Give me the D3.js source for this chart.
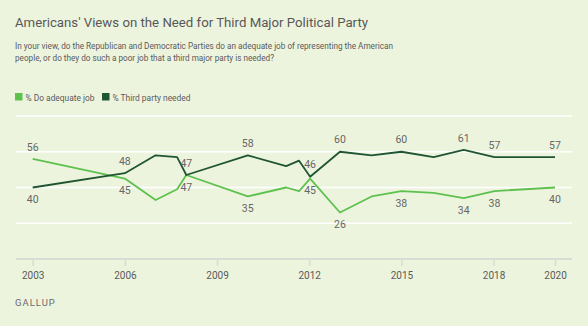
<!DOCTYPE html>
<html>
<head>
<meta charset="utf-8">
<script src="https://cdn.jsdelivr.net/npm/d3@7"></script>
<style>
  body { margin: 0; background: #edf4de; }
  svg { display: block; font-family: "Roboto", "Noto Sans", sans-serif; }
</style>
</head>
<body>
<div id="chart"></div>
<script>
// survey dates (decimal years) and values
const years = [2003.0, 2006.0, 2007.0, 2007.7, 2008.0, 2010.0, 2011.25, 2011.67, 2012.03,
               2013.0, 2014.03, 2015.0, 2016.05, 2017.03, 2018.03, 2020.0];
const adequate = [56, 45, 33, 39, 47, 35, 40, 38, 45, 26, 35, 38, 37, 34, 38, 40];
const thirdParty = [40, 48, 58, 57, 47, 58, 52, 55, 46, 60, 58, 60, 57, 61, 57, 57];
// which points carry a value label
const labelled = [0, 1, 4, 5, 8, 9, 11, 13, 14, 15];
const tickYears = [2003, 2006, 2009, 2012, 2015, 2018, 2020];
const gridValues = [20, 40, 60, 80];

const width = 588, height = 326;
const lightGreen = "#5ec14e", darkGreen = "#1f5532";

const svg = d3.select("#chart").append("svg")
    .attr("width", width)
    .attr("height", height);

svg.append("rect").attr("width", width).attr("height", height).attr("fill", "#edf4de");

// title + question
svg.append("text")
    .attr("x", 15).attr("y", 27)
    .attr("font-size", 13.6)
    .attr("fill", "#585858")
    .attr("textLength", 353)
    .attr("lengthAdjust", "spacingAndGlyphs")
    .text("Americans' Views on the Need for Third Major Political Party");

const question = [
    {text: "In your view, do the Republican and Democratic Parties do an adequate job of representing the American", w: 378},
    {text: "people, or do they do such a poor job that a third major party is needed?", w: 259}
];
svg.selectAll("text.q").data(question).enter()
    .append("text")
    .attr("class", "q")
    .attr("x", 15)
    .attr("y", (d, i) => 49 + i * 11.5)
    .attr("font-size", 9.3)
    .attr("fill", "#5a5a5a")
    .attr("textLength", d => d.w)
    .attr("lengthAdjust", "spacingAndGlyphs")
    .text(d => d.text);

// legend
const legend = [
    {label: "% Do adequate job", color: lightGreen, x: 15, w: 69},
    {label: "% Third party needed", color: darkGreen, x: 102, w: 78}
];
const lg = svg.selectAll("g.legend").data(legend).enter()
    .append("g")
    .attr("transform", d => `translate(${d.x},93)`);
lg.append("rect").attr("width", 7.5).attr("height", 7.5).attr("fill", d => d.color);
lg.append("text")
    .attr("x", 10.5).attr("y", 7.5)
    .attr("font-size", 9.3)
    .attr("fill", "#5a5a5a")
    .attr("textLength", d => d.w)
    .attr("lengthAdjust", "spacingAndGlyphs")
    .text(d => d.label);

// scales
const x = d3.scaleLinear().domain([2003, 2020]).range([32.7, 555]);
const y = d3.scaleLinear().domain([0, 80]).range([259, 116]);

// gridlines
svg.selectAll("line.grid").data(gridValues).enter()
    .append("line")
    .attr("x1", 16).attr("x2", 572)
    .attr("y1", d => y(d)).attr("y2", d => y(d))
    .attr("stroke", "#ffffff")
    .attr("stroke-width", 1.5);

// x axis
const xAxis = svg.append("g")
    .attr("transform", `translate(0,${y(0)})`)
    .call(d3.axisBottom(x).tickValues(tickYears).tickFormat(d3.format("d")).tickSize(7).tickPadding(6));
xAxis.select(".domain").remove();
xAxis.selectAll(".tick line").attr("stroke", "#d8dcd3").attr("stroke-width", 1.5);
xAxis.selectAll(".tick text")
    .attr("fill", "#5a5a5a")
    .attr("font-size", 10)
    .attr("font-family", "Roboto, 'Noto Sans', sans-serif");
svg.append("line")
    .attr("x1", 16).attr("x2", 572)
    .attr("y1", y(0)).attr("y2", y(0))
    .attr("stroke", "#d8dcd3")
    .attr("stroke-width", 2);

// lines
const line = d3.line()
    .x(d => x(d[0]))
    .y(d => y(d[1]));
const series = [
    {values: adequate, color: lightGreen},
    {values: thirdParty, color: darkGreen}
];
svg.selectAll("path.series").data(series).enter()
    .append("path")
    .attr("fill", "none")
    .attr("stroke", d => d.color)
    .attr("stroke-width", 1.8)
    .attr("stroke-linejoin", "round")
    .attr("d", d => line(years.map((yr, i) => [yr, d.values[i]])));

// value labels: higher value above, lower below
const labels = [];
labelled.forEach(i => {
    const a = adequate[i], t = thirdParty[i];
    labels.push({yr: years[i], v: a, above: a > t});
    labels.push({yr: years[i], v: t, above: t >= a});
});
svg.selectAll("text.val").data(labels).enter()
    .append("text")
    .attr("x", d => x(d.yr))
    .attr("y", d => y(d.v) + (d.above ? -12 : 12))
    .attr("dy", "0.35em")
    .attr("text-anchor", "middle")
    .attr("font-size", 10.5)
    .attr("fill", "#666666")
    .text(d => d.v);

// source
svg.append("text")
    .attr("x", 15).attr("y", 306)
    .attr("font-size", 9.5)
    .attr("letter-spacing", 1)
    .attr("fill", "#6b6b6b")
    .text("GALLUP");
</script>
</body>
</html>
